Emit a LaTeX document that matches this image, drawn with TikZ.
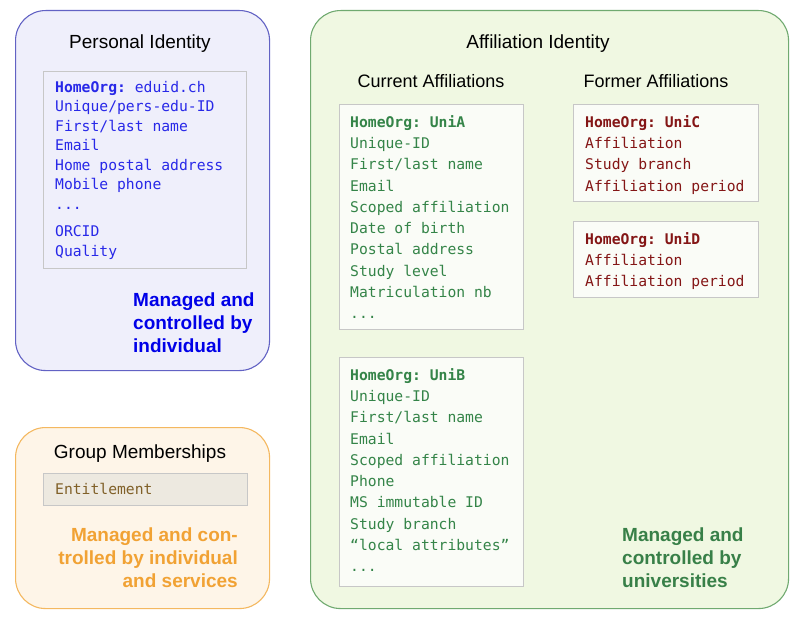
\documentclass[tikz,border=0pt]{standalone}
\usepackage{fontspec}
\setmainfont{Liberation Sans}
\setmonofont{DejaVu Sans Mono}
\definecolor{pidfill}{RGB}{239,239,251}
\definecolor{pidline}{RGB}{98,98,196}
\definecolor{pidtext}{RGB}{40,40,232}
\definecolor{pidnote}{RGB}{0,0,232}
\definecolor{grpfill}{RGB}{254,245,232}
\definecolor{grpline}{RGB}{244,184,96}
\definecolor{grpnote}{RGB}{241,162,52}
\definecolor{entfill}{RGB}{237,233,224}
\definecolor{enttext}{RGB}{128,96,40}
\definecolor{affill}{RGB}{240,248,226}
\definecolor{afline}{RGB}{112,170,112}
\definecolor{aftext}{RGB}{52,132,72}
\definecolor{afnote}{RGB}{56,128,72}
\definecolor{oldtext}{RGB}{132,22,22}
\definecolor{listfill}{RGB}{250,252,247}
\begin{document}
\begin{tikzpicture}[x=1pt,y=-1pt,
    outer/.style={draw, line width=1.1pt, rounded corners=30pt, anchor=north west, inner sep=0pt},
    listbox/.style={draw=black!22, line width=0.9pt, anchor=north west, inner sep=0pt},
    title/.style={anchor=base, inner sep=0pt, font=\fontsize{19}{23}\selectfont},
    subtitle/.style={anchor=base, inner sep=0pt, font=\fontsize{18}{22}\selectfont},
    attrs/.style={anchor=north west, align=left, inner sep=0pt, font=\ttfamily\fontsize{14.7}{21.3}\selectfont},
    note/.style={inner sep=0pt, font=\bfseries\fontsize{19}{23}\selectfont}]
  \useasboundingbox (0,0) rectangle (802,623);
  \node[outer, draw=pidline, fill=pidfill, minimum width=254pt, minimum height=360pt] (personal) at (15,10) {};
  \node[title] (personaltitle) at (140,49) {Personal Identity};
  \node[listbox, fill=pidfill, minimum width=203pt, minimum height=197pt] (pidbox) at (43,71) {};
  \node[attrs, text=pidtext, font=\ttfamily\fontsize{14.7}{19.5}\selectfont] (pidattrs) at (55,81)
    {\textbf{HomeOrg:} eduid.ch\\Unique/pers-edu-ID\\First/last name\\Email\\Home postal address\\Mobile phone\\...\\[8pt]ORCID\\Quality};
  \node[note, anchor=north west, align=left, text=pidnote] (pidnote) at (133,293) {Managed and\\controlled by\\individual};

  \node[outer, draw=grpline, fill=grpfill, minimum width=254pt, minimum height=181pt] (group) at (15,427) {};
  \node[title] (grouptitle) at (140,458) {Group Memberships};
  \node[listbox, fill=entfill, minimum width=204pt, minimum height=32pt] (entbox) at (43,473) {};
  \node[anchor=base west, inner sep=0pt, text=enttext, font=\ttfamily\fontsize{14.7}{18}\selectfont] (entitle) at (55,494) {Entitlement};
  \node[note, anchor=north east, align=right, text=grpnote] (grpnote) at (238,528) {Managed and con-\\trolled by individual\\and services};

  \node[outer, draw=afline, fill=affill, minimum width=478pt, minimum height=598pt] (affil) at (310,10) {};
  \node[title] (affiltitle) at (538,49) {Affiliation Identity};
  \node[subtitle] (current) at (431,88) {Current Affiliations};
  \node[subtitle] (former) at (656,88) {Former Affiliations};
  \node[listbox, fill=listfill, minimum width=184pt, minimum height=225pt] (unia) at (339,104) {};
  \node[attrs, text=aftext] (uniaattrs) at (350,115)
    {\textbf{HomeOrg: UniA}\\Unique-ID\\First/last name\\Email\\Scoped affiliation\\Date of birth\\Postal address\\Study level\\Matriculation nb\\...};
  \node[listbox, fill=listfill, minimum width=184pt, minimum height=229pt] (unib) at (339,357) {};
  \node[attrs, text=aftext] (unibattrs) at (350,368)
    {\textbf{HomeOrg: UniB}\\Unique-ID\\First/last name\\Email\\Scoped affiliation\\Phone\\MS immutable ID\\Study branch\\“local attributes”\\...};
  \node[listbox, fill=listfill, minimum width=185pt, minimum height=97pt] (unic) at (573,104) {};
  \node[attrs, text=oldtext] (unicattrs) at (585,115)
    {\textbf{HomeOrg: UniC}\\Affiliation\\Study branch\\Affiliation period};
  \node[listbox, fill=listfill, minimum width=185pt, minimum height=76pt] (unid) at (573,221) {};
  \node[attrs, text=oldtext] (unidattrs) at (585,232)
    {\textbf{HomeOrg: UniD}\\Affiliation\\Affiliation period};
  \node[note, anchor=north west, align=left, text=afnote] (afnote) at (622,528) {Managed and\\controlled by\\universities};
\end{tikzpicture}
\end{document}
